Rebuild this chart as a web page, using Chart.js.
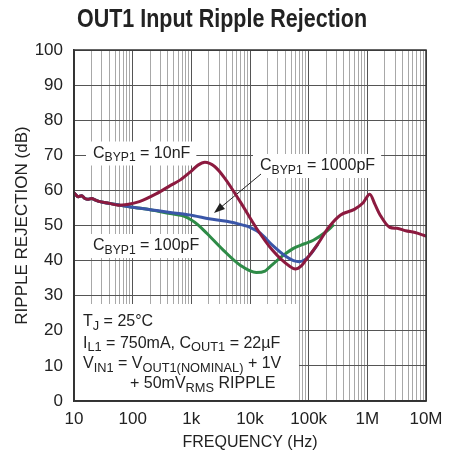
<!DOCTYPE html>
<html>
<head>
<meta charset="utf-8">
<script src="https://cdn.jsdelivr.net/npm/chart.js@4.4.0/dist/chart.umd.min.js"></script>
<style>
  html, body { margin: 0; padding: 0; background: #fff; }
  #wrap { width: 456px; height: 458px; }
</style>
</head>
<body>
<div id="wrap"><canvas id="ripple-chart" width="456" height="458"></canvas></div>
<script>
const FONT = "'Liberation Sans Narrow', 'Liberation Sans', Arial, sans-serif";

const decades = [10, 100, 1e3, 1e4, 1e5, 1e6, 1e7];
const xTickLabels = ['10', '100', '1k', '10k', '100k', '1M', '10M'];
const yTicks = [0, 10, 20, 30, 40, 50, 60, 70, 80, 90, 100];

// CBYP1 = 10nF
const freq10n = [10, 11.9, 13.5, 15.4, 17.5, 20, 22.8, 27.7, 40, 57, 80, 130, 250, 450, 650, 1000, 1300, 1700, 2500, 3700, 6800, 12800, 24000, 48000, 59000, 75000, 90000, 140000, 220000, 350000, 600000, 850000, 1100000, 1350000, 1650000, 2400000, 3200000, 4500000, 6500000, 10000000];
const rr10n = [59.3, 58.2, 58.5, 57.7, 57.5, 57.7, 57.3, 56.8, 56.3, 55.8, 56.0, 56.8, 59.0, 61.5, 63.0, 65.5, 67.2, 68.0, 66.8, 63.5, 56.8, 49.3, 43.0, 38.3, 37.6, 38.5, 40.2, 44.5, 49.5, 53.0, 54.6, 56.5, 58.9, 56.0, 53.0, 49.5, 49.2, 48.5, 48.0, 47.0];

// CBYP1 = 1000pF
const freq1000p = [10, 11.9, 13.5, 15.4, 17.5, 20, 22.8, 27.7, 40, 60, 100, 200, 437, 1100, 2000, 4000, 7600, 10000, 15000, 24000, 40000, 55000, 70000, 90000, 110000, 140000];
const rr1000p = [59.3, 58.2, 58.5, 57.7, 57.5, 57.7, 57.3, 56.8, 56.3, 55.8, 55.2, 54.5, 53.7, 52.8, 51.9, 51.2, 50.1, 49.5, 47.8, 44.4, 41.3, 40.0, 39.7, 40.5, 42.0, 44.5];

// CBYP1 = 100pF
const freq100p = [10, 11.9, 13.5, 15.4, 17.5, 20, 22.8, 27.7, 40, 60, 100, 200, 437, 700, 955, 1300, 1830, 3500, 6800, 12800, 18000, 22000, 37000, 55000, 85000, 120000, 200000, 260000];
const rr100p = [59.3, 58.2, 58.5, 57.7, 57.5, 57.7, 57.3, 56.8, 56.3, 55.8, 55.2, 54.5, 53.4, 52.8, 51.8, 50.2, 47.8, 43.0, 38.7, 36.6, 37.0, 38.3, 41.5, 43.5, 44.8, 45.8, 48.3, 50.0];

const toPoints = (xs, ys) => xs.map((x, i) => ({ x: x, y: ys[i] }));

const isDecade = v => Math.abs(Math.log10(v) - Math.round(Math.log10(v))) < 1e-9;

// draw text made of normal and subscript runs, left aligned on baseline y
function drawRuns(ctx, x, y, runs, size, subRatio) {
  let cx = x;
  runs.forEach(r => {
    const sub = r[1] === 'sub';
    const s = sub ? size * subRatio : size;
    ctx.font = s + 'px ' + FONT;
    ctx.fillText(r[0], cx, sub ? y + size * 0.22 : y);
    cx += ctx.measureText(r[0]).width;
  });
  return cx - x;
}

function measureRuns(ctx, runs, size, subRatio) {
  let w = 0;
  runs.forEach(r => {
    const s = r[1] === 'sub' ? size * subRatio : size;
    ctx.font = s + 'px ' + FONT;
    w += ctx.measureText(r[0]).width;
  });
  return w;
}

const labels = [
  { x: 93, y: 157.5, runs: [['C'], ['BYP1', 'sub'], [' = 10nF']] },
  { x: 260, y: 170, runs: [['C'], ['BYP1', 'sub'], [' = 1000pF']] },
  { x: 93, y: 250, runs: [['C'], ['BYP1', 'sub'], [' = 100pF']] }
];

const notes = [
  { x: 83, y: 326, runs: [['T'], ['J', 'sub'], [' = 25°C']] },
  { x: 83, y: 347.5, runs: [['I'], ['L1', 'sub'], [' = 750mA, C'], ['OUT1', 'sub'], [' = 22µF']] },
  { x: 83, y: 368, runs: [['V'], ['IN1', 'sub'], [' = V'], ['OUT1(NOMINAL)', 'sub'], [' + 1V']] },
  { x: 130, y: 388, runs: [['+ 50mV'], ['RMS', 'sub'], [' RIPPLE']] }
];

const decorations = {
  id: 'decorations',
  beforeDatasetsDraw(chart) {
    const ctx = chart.ctx;
    const a = chart.chartArea;
    ctx.save();
    ctx.fillStyle = '#fff';
    labels.forEach(l => {
      const w = measureRuns(ctx, l.runs, 16, 0.76);
      ctx.fillRect(l.x - 7, l.y - 16, w + 13, 24);
    });
    ctx.fillRect(a.left + 1, 304, 224, a.bottom - 305);
    ctx.fillStyle = '#222';
    ctx.textBaseline = 'alphabetic';
    labels.forEach(l => drawRuns(ctx, l.x, l.y, l.runs, 16, 0.76));
    notes.forEach(n => drawRuns(ctx, n.x, n.y, n.runs, 16, 0.8));

    // arrow to the 1000pF curve
    const x1 = 261, y1 = 174, x2 = 214, y2 = 213;
    const ang = Math.atan2(y2 - y1, x2 - x1);
    ctx.strokeStyle = '#222';
    ctx.lineWidth = 1;
    ctx.beginPath();
    ctx.moveTo(x1, y1);
    ctx.lineTo(x2 - 6 * Math.cos(ang), y2 - 6 * Math.sin(ang));
    ctx.stroke();
    ctx.beginPath();
    ctx.moveTo(x2, y2);
    ctx.lineTo(x2 - 11 * Math.cos(ang) + 4 * Math.sin(ang), y2 - 11 * Math.sin(ang) - 4 * Math.cos(ang));
    ctx.lineTo(x2 - 11 * Math.cos(ang) - 4 * Math.sin(ang), y2 - 11 * Math.sin(ang) + 4 * Math.cos(ang));
    ctx.closePath();
    ctx.fill();
    ctx.restore();
  },
  afterDraw(chart) {
    const ctx = chart.ctx;
    const a = chart.chartArea;
    ctx.save();
    ctx.strokeStyle = '#333';
    ctx.lineWidth = 1.5;
    ctx.strokeRect(a.left, a.top, a.right - a.left, a.bottom - a.top);

    // condensed bold title
    const title = 'OUT1 Input Ripple Rejection';
    ctx.font = 'bold 26px ' + FONT;
    const w = ctx.measureText(title).width;
    const sx = 290 / w;
    ctx.translate(222, 27);
    ctx.scale(sx, 1);
    ctx.fillStyle = '#222';
    ctx.textAlign = 'center';
    ctx.fillText(title, 0, 0);
    ctx.restore();
  }
};

new Chart(document.getElementById('ripple-chart'), {
  type: 'line',
  data: {
    datasets: [
      {
        label: 'CBYP1 = 10nF',
        data: toPoints(freq10n, rr10n),
        borderColor: '#8c1a3f',
        borderWidth: 3
      },
      {
        label: 'CBYP1 = 1000pF',
        data: toPoints(freq1000p, rr1000p),
        borderColor: '#3a56a8',
        borderWidth: 3
      },
      {
        label: 'CBYP1 = 100pF',
        data: toPoints(freq100p, rr100p),
        borderColor: '#2e8b47',
        borderWidth: 3
      }
    ]
  },
  options: {
    responsive: false,
    animation: false,
    layout: { padding: { top: 50, right: 30, left: 0, bottom: 0 } },
    elements: {
      point: { radius: 0 },
      line: { cubicInterpolationMode: 'monotone', borderCapStyle: 'round', borderJoinStyle: 'round' }
    },
    plugins: {
      legend: { display: false },
      tooltip: { enabled: false },
      title: { display: false }
    },
    scales: {
      x: {
        type: 'logarithmic',
        min: 10,
        max: 1e7,
        afterBuildTicks: scale => {
          const ticks = [];
          decades.slice(0, -1).forEach(d => {
            for (let k = 1; k < 10; k++) ticks.push({ value: d * k });
          });
          ticks.push({ value: decades[decades.length - 1] });
          scale.ticks = ticks;
        },
        afterFit: scale => { scale.height = 57; },
        grid: {
          drawTicks: false,
          color: c => (c.tick && isDecade(c.tick.value)) ? '#555' : '#a8a8a8',
          lineWidth: 1
        },
        border: { color: '#333', width: 1.5 },
        ticks: {
          autoSkip: false,
          maxRotation: 0,
          padding: 8,
          color: '#222',
          font: { family: FONT, size: 17 },
          callback: v => {
            const i = decades.findIndex(d => Math.abs(d - v) < 1e-6 * d);
            return i >= 0 ? xTickLabels[i] : '';
          }
        },
        title: {
          display: true,
          text: 'FREQUENCY (Hz)',
          color: '#222',
          font: { family: FONT, size: 16 },
          padding: { top: 0, bottom: 6 }
        }
      },
      y: {
        min: 0,
        max: 100,
        afterBuildTicks: scale => { scale.ticks = yTicks.map(v => ({ value: v })); },
        afterFit: scale => { scale.width = 74; },
        grid: { drawTicks: false, color: '#555', lineWidth: 1 },
        border: { color: '#333', width: 1.5 },
        ticks: {
          padding: 11,
          color: '#222',
          font: { family: FONT, size: 17 }
        },
        title: {
          display: true,
          text: 'RIPPLE REJECTION (dB)',
          color: '#222',
          font: { family: FONT, size: 17 },
          padding: { top: 12, bottom: 0 }
        }
      }
    }
  },
  plugins: [decorations]
});
</script>
</body>
</html>
